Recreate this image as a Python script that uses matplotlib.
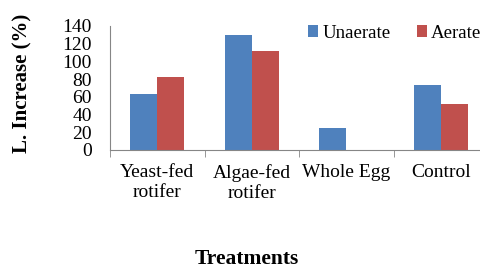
import matplotlib
matplotlib.use('Agg')
import matplotlib.pyplot as plt
import numpy as np

categories = ['Yeast-fed\nrotifer', 'Algae-fed\nrotifer', 'Whole Egg', 'Control']
unaerate = [63, 130, 25, 73]
aerate = [82, 112, 0, 52]

plt.rcParams['font.family'] = ['Liberation Serif', 'DejaVu Serif']

fig = plt.figure(figsize=(4.8, 2.7), dpi=100)
# axes runs past the right edge of the figure like the original
ax = fig.add_axes([110/480, 1-150/270, 378/480, 124/270])

x = np.arange(len(categories))
w = 0.285
ax.bar(x - w/2, unaerate, w, color='#4F81BD', label='Unaerate')
ax.bar(x + w/2, aerate, w, color='#C0504D', label='Aerate')

ax.set_xlim(-0.5, len(categories) - 0.5)
ax.set_ylim(0, 140)
ax.set_yticks(range(0, 141, 20))
ax.tick_params(axis='y', labelsize=14, length=0, pad=13)
ax.set_xticks(x)
ax.set_xticklabels(categories, fontsize=14, linespacing=1.25)
ax.tick_params(axis='x', length=0, pad=10)
ax.set_xticks(np.arange(-0.5, len(categories), 1), minor=True)
ax.tick_params(axis='x', which='minor', length=5, color='#868686')

for s in ['top', 'right']:
    ax.spines[s].set_visible(False)
for s in ['left', 'bottom']:
    ax.spines[s].set_color('#868686')

fig.text(22/480, 1-83/270, 'L. Increase (%)', fontsize=15, fontweight='bold',
         rotation=90, ha='center', va='center')
fig.text(247/480, 1-259/270, 'Treatments', fontsize=15.5, fontweight='bold',
         ha='center', va='center')

fig.legend(loc='center left', bbox_to_anchor=(308/480, 1-33/270), ncol=2,
           frameon=False, borderpad=0, borderaxespad=0,
           fontsize=13.6, handlelength=0.55, handleheight=0.55, handletextpad=0.2,
           columnspacing=1.4)

fig.savefig('out.png', dpi=100)
